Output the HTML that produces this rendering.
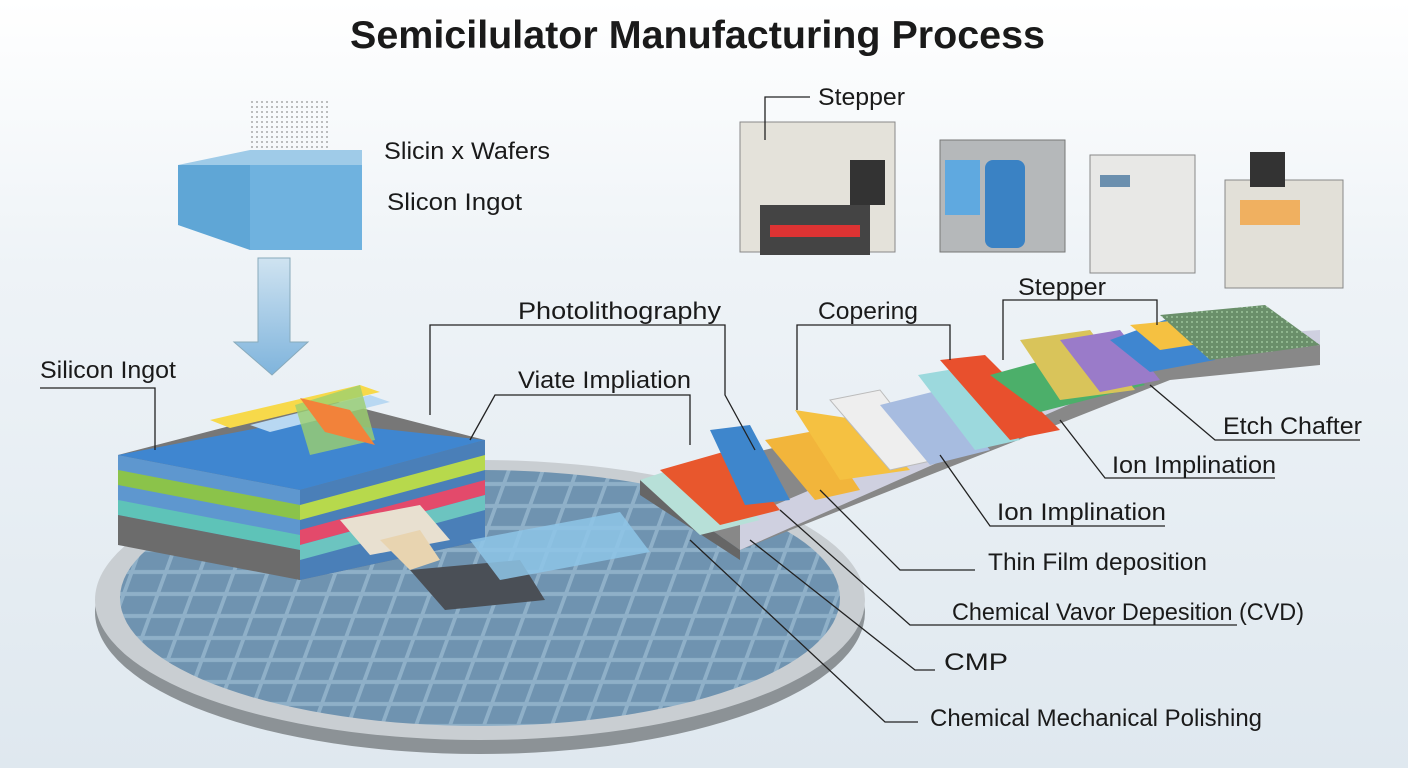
<!DOCTYPE html>
<html><head><meta charset="utf-8"><style>
html,body{margin:0;padding:0;width:1408px;height:768px;overflow:hidden;background:#fff}
svg{display:block}
text{font-family:"Liberation Sans",sans-serif;fill:#1a1a1a}
</style></head><body>
<svg width="1408" height="768" viewBox="0 0 1408 768" xmlns="http://www.w3.org/2000/svg">
<defs>
<linearGradient id="bg" x1="0" y1="0" x2="0" y2="1">
<stop offset="0" stop-color="#ffffff"/><stop offset="0.35" stop-color="#eef3f7"/><stop offset="1" stop-color="#dfe8ef"/>
</linearGradient>
<linearGradient id="arr" x1="0" y1="0" x2="0" y2="1">
<stop offset="0" stop-color="#cfe3f1"/><stop offset="1" stop-color="#7fb4dc"/>
</linearGradient>
<pattern id="grid" width="34" height="22" patternUnits="userSpaceOnUse" patternTransform="skewX(-20)">
<rect width="34" height="22" fill="#8fb0c8"/><rect x="2" y="2" width="30" height="18" fill="#6f93b0"/>
</pattern>
<pattern id="dots" width="5" height="5" patternUnits="userSpaceOnUse"><circle cx="2" cy="2" r="0.9" fill="#777"/></pattern>
<pattern id="gr" width="5" height="5" patternUnits="userSpaceOnUse"><rect width="5" height="5" fill="#6a8f6a"/><circle cx="2" cy="2" r="1" fill="#9bc29a"/></pattern>
</defs>
<rect width="1408" height="768" fill="url(#bg)"/>
<text x="350" y="48" font-size="39" font-weight="bold" textLength="695" lengthAdjust="spacingAndGlyphs" fill="#111">Semicilulator Manufacturing Process</text>

<!-- ingot -->
<rect x="250" y="98" width="80" height="80" fill="url(#dots)" opacity="0.8"/>
<polygon points="178,165 250,150 362,150 362,165" fill="#9fcbe8"/>
<polygon points="178,165 362,165 362,250 250,250 178,225" fill="#5fa6d6"/>
<polygon points="250,165 362,165 362,250 250,250" fill="#6fb2df"/>
<polygon points="258,258 290,258 290,342 308,342 272,375 234,342 258,342" fill="url(#arr)" stroke="#8ab" stroke-width="1"/>

<!-- wafer -->
<ellipse cx="480" cy="612" rx="385" ry="142" fill="#8c9296"/>
<ellipse cx="480" cy="600" rx="385" ry="140" fill="#c9ced2"/>
<ellipse cx="480" cy="598" rx="360" ry="128" fill="url(#grid)"/>

<!-- left stack -->
<polygon points="118,455 330,400 485,440 485,540 300,580 118,540" fill="#777"/>
<polygon points="118,455 300,490 300,580 118,540" fill="#5e97cf"/>
<polygon points="118,470 300,505 300,520 118,485" fill="#8bc34a"/>
<polygon points="118,500 300,535 300,550 118,515" fill="#5ec3b8"/>
<polygon points="118,515 300,550 300,580 118,545" fill="#6c6c6c"/>
<polygon points="300,490 485,440 485,540 300,580" fill="#4a7fb8"/>
<polygon points="300,505 485,455 485,470 300,520" fill="#b7d94c"/>
<polygon points="300,530 485,480 485,495 300,545" fill="#e34a6b"/>
<polygon points="300,545 485,495 485,510 300,560" fill="#6cc4c0"/>
<polygon points="118,455 300,420 485,440 300,490" fill="#3f86d0"/>
<polygon points="210,420 360,385 380,392 230,428" fill="#f7d94a"/>
<polygon points="250,425 370,395 390,402 270,432" fill="#b8d8f2"/>
<polygon points="295,405 360,385 375,440 310,455" fill="#9ccf6e" opacity="0.8"/>
<polygon points="300,398 350,410 375,445 325,432" fill="#f2823a"/>
<polygon points="340,520 420,505 450,540 370,555" fill="#e8e0d0"/>
<polygon points="380,540 420,530 440,560 410,570" fill="#e8d4b0"/>
<polygon points="410,570 520,560 545,600 445,610" fill="#4a4f56"/>
<polygon points="470,540 620,512 650,552 500,580" fill="#8ec5e8" opacity="0.85"/>

<!-- process strip -->
<polygon points="640,480 1160,355 1320,345 1320,365 1170,380 740,550" fill="#888"/>
<polygon points="640,480 740,550 740,560 640,495" fill="#666"/>
<polygon points="740,520 1160,340 1320,330 1320,345 1170,360 740,550" fill="#cfd0e0"/>
<polygon points="640,480 700,460 760,520 700,535" fill="#b7e0d8"/>
<polygon points="660,470 730,450 780,510 720,525" fill="#e8572d"/>
<polygon points="710,430 750,425 790,500 745,505" fill="#3e86cc"/>
<polygon points="765,440 820,430 860,490 815,500" fill="#f2b53b"/>
<polygon points="795,410 860,420 910,470 840,480" fill="#f5c141"/>
<polygon points="830,400 880,390 935,460 890,470" fill="#eeeeee" stroke="#bbb"/>
<polygon points="880,405 940,390 990,450 930,465" fill="#a7bce0"/>
<polygon points="918,375 960,368 1020,440 975,450" fill="#9cd9dd"/>
<polygon points="940,360 985,355 1060,430 1010,440" fill="#e8502d"/>
<polygon points="990,375 1100,345 1145,385 1040,412" fill="#4caf6a"/>
<polygon points="1020,340 1090,330 1135,390 1060,400" fill="#d9c45a"/>
<polygon points="1060,340 1120,330 1160,380 1100,392" fill="#9a7bc9"/>
<polygon points="1110,340 1170,318 1215,360 1150,372" fill="#3f86d0"/>
<polygon points="1130,325 1200,318 1225,340 1160,350" fill="#f5c141"/>
<polygon points="1160,315 1265,305 1320,345 1210,360" fill="url(#gr)"/>

<!-- machines -->
<rect x="740" y="122" width="155" height="130" fill="#e4e2da" stroke="#888"/>
<rect x="760" y="205" width="110" height="50" fill="#444"/>
<rect x="770" y="225" width="90" height="12" fill="#d33"/>
<rect x="850" y="160" width="35" height="45" fill="#333"/>
<rect x="940" y="140" width="125" height="112" fill="#b5b8ba" stroke="#777"/>
<rect x="945" y="160" width="35" height="55" fill="#5fa9e0"/>
<rect x="985" y="160" width="40" height="88" rx="8" fill="#3a82c4"/>
<rect x="1090" y="155" width="105" height="118" fill="#e8e8e6" stroke="#888"/>
<rect x="1100" y="175" width="30" height="12" fill="#6b8fae"/>
<rect x="1225" y="180" width="118" height="108" fill="#e2e0d8" stroke="#888"/>
<rect x="1250" y="152" width="35" height="35" fill="#333"/>
<rect x="1240" y="200" width="60" height="25" fill="#f0b060"/>

<!-- leader lines -->
<g stroke="#222" stroke-width="1.3" fill="none">
<polyline points="765,140 765,97 810,97"/>
<polyline points="155,450 155,388 40,388"/>
<polyline points="430,415 430,325 725,325 725,395 755,450"/>
<polyline points="470,440 495,395 690,395 690,445"/>
<polyline points="797,410 797,325 950,325 950,360"/>
<polyline points="1003,360 1003,300 1157,300 1157,325"/>
<polyline points="1150,385 1215,440 1360,440"/>
<polyline points="1060,420 1105,478 1275,478"/>
<polyline points="940,455 990,526 1165,526"/>
<polyline points="820,490 900,570 975,570"/>
<polyline points="780,510 910,625 1237,625"/>
<polyline points="750,540 915,670 935,670"/>
<polyline points="690,540 885,722 918,722"/>
</g>
<g font-size="24">
<text x="818" y="105" textLength="87" lengthAdjust="spacingAndGlyphs">Stepper</text>
<text x="384" y="159" textLength="166" lengthAdjust="spacingAndGlyphs">Slicin x Wafers</text>
<text x="387" y="210" textLength="135" lengthAdjust="spacingAndGlyphs">Slicon Ingot</text>
<text x="40" y="378" textLength="136" lengthAdjust="spacingAndGlyphs">Silicon Ingot</text>
<text x="518" y="319" textLength="203" lengthAdjust="spacingAndGlyphs">Photolithography</text>
<text x="518" y="388" textLength="173" lengthAdjust="spacingAndGlyphs">Viate Impliation</text>
<text x="818" y="319" textLength="100" lengthAdjust="spacingAndGlyphs">Copering</text>
<text x="1018" y="295" textLength="88" lengthAdjust="spacingAndGlyphs">Stepper</text>
<text x="1223" y="434" textLength="139" lengthAdjust="spacingAndGlyphs">Etch Chafter</text>
<text x="1112" y="473" textLength="164" lengthAdjust="spacingAndGlyphs">Ion Implination</text>
<text x="997" y="520" textLength="169" lengthAdjust="spacingAndGlyphs">Ion Implination</text>
<text x="988" y="570" textLength="219" lengthAdjust="spacingAndGlyphs">Thin Film deposition</text>
<text x="952" y="620" textLength="352" lengthAdjust="spacingAndGlyphs">Chemical Vavor Depesition (CVD)</text>
<text x="944" y="670" textLength="64" lengthAdjust="spacingAndGlyphs">CMP</text>
<text x="930" y="726" textLength="332" lengthAdjust="spacingAndGlyphs">Chemical Mechanical Polishing</text>
</g>
</svg>
</body></html>
